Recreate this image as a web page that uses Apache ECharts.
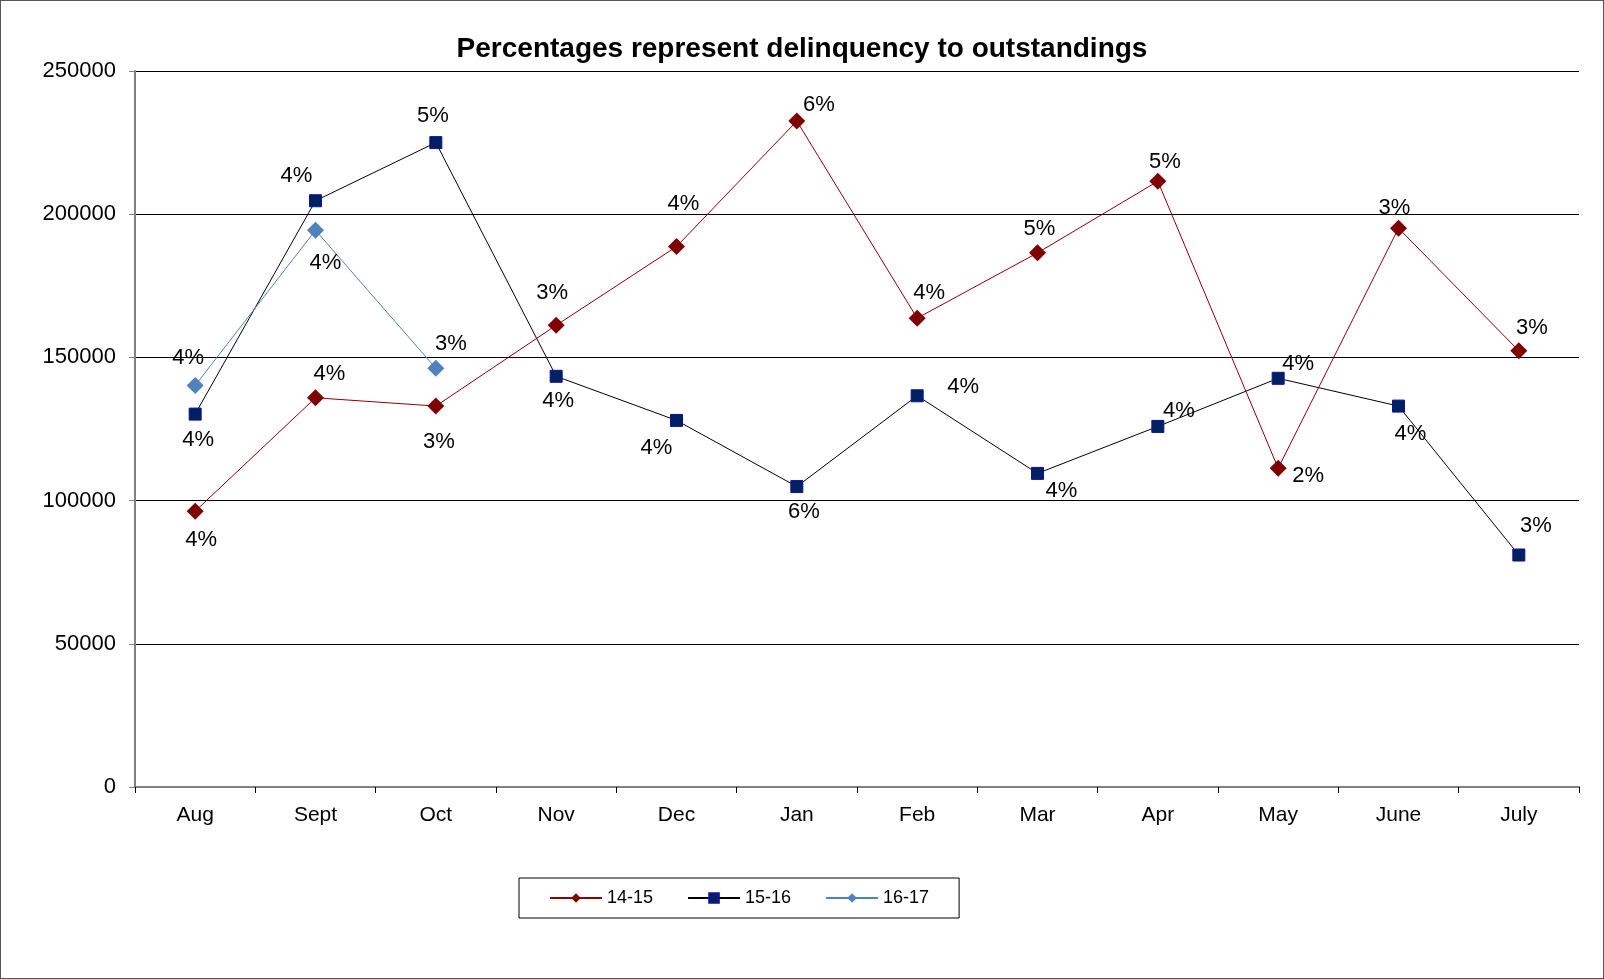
<!DOCTYPE html>
<html>
<head>
<meta charset="utf-8">
<script src="https://cdn.jsdelivr.net/npm/echarts@6/dist/echarts.min.js"></script>
<style>
  html, body { margin: 0; padding: 0; background: #fff; }
  #chart { width: 1604px; height: 979px; box-sizing: border-box; border: 1px solid #555; }
</style>
</head>
<body>
<div id="chart"></div>
<script>
const months = ['Aug', 'Sept', 'Oct', 'Nov', 'Dec', 'Jan', 'Feb', 'Mar', 'Apr', 'May', 'June', 'July']
const yTicks = [0, 50000, 100000, 150000, 200000, 250000]

const values1415 = [96300, 135900, 133000, 161200, 188700, 232500, 163700, 186500, 211500, 111300, 195100, 152300]
const values1516 = [130200, 204700, 225000, 143400, 128000, 104900, 136600, 109500, 125900, 142700, 133000, 81000]
const values1617 = [140200, 194400, 146200]

const pct1415 = ['4%', '4%', '3%', '3%', '4%', '6%', '4%', '5%', '5%', '2%', '3%', '3%']
const pct1516 = ['4%', '4%', '5%', '4%', '4%', '6%', '4%', '4%', '4%', '4%', '4%', '3%']
const pct1617 = ['4%', '4%', '3%']

// label offsets from the marker centre (layout only)
const off1415 = [[6, 29], [14, -24], [3, 36], [-4, -32], [7, -43], [22, -16], [12, -25], [2, -24], [7, -19], [30, 8], [-4, -20], [13, -23]]
const off1516 = [[3, 26], [-19, -25], [-3, -27], [2, 25], [-20, 28], [7, 25], [46, -9], [24, 18], [21, -15], [20, -14], [12, 28], [17, -29]]
const off1617 = [[-7, -28], [10, 33], [15, -24]]

const font = 'Liberation Sans, Arial, sans-serif'

function points(values, pct, off) {
  return values.map((v, i) => ({
    value: v,
    label: { formatter: pct[i], offset: off[i] },
  }))
}

const labelStyle = {
  show: true,
  position: 'inside',
  color: '#000',
  fontSize: 22,
  fontFamily: font,
}

const chart = echarts.init(document.getElementById('chart'))
chart.setOption({
  animation: false,
  title: {
    text: 'Percentages represent delinquency to outstandings',
    left: 'center',
    top: 29,
    textStyle: { fontSize: 28, fontWeight: 'bold', color: '#000', fontFamily: font },
  },
  legend: {
    bottom: 60,
    left: 518,
    itemWidth: 52,
    itemHeight: 12,
    itemGap: 34,
    padding: [11, 30, 11, 30],
    borderColor: '#000',
    borderWidth: 1,
    textStyle: { fontSize: 18, color: '#000', fontFamily: font },
    data: ['14-15', '15-16', '16-17'],
  },
  grid: {
    left: 134,
    right: 24,
    top: 70,
    bottom: 191,
  },
  xAxis: {
    type: 'category',
    data: months,
    boundaryGap: true,
    axisLine: { lineStyle: { color: '#808080', width: 2 } },
    axisTick: { show: true, length: 6, lineStyle: { color: '#000' } },
    axisLabel: { color: '#000', fontSize: 21, margin: 18, fontFamily: font },
  },
  yAxis: {
    type: 'value',
    min: yTicks[0],
    max: yTicks[yTicks.length - 1],
    interval: 50000,
    axisLine: { show: true, lineStyle: { color: '#808080', width: 2 } },
    axisTick: { show: true, length: 6, lineStyle: { color: '#808080' } },
    axisLabel: { color: '#000', fontSize: 22, margin: 19, fontFamily: font, formatter: (v) => String(v) },
    splitLine: { show: true, lineStyle: { color: '#000', width: 1 } },
  },
  series: [
    {
      name: '14-15',
      type: 'line',
      data: points(values1415, pct1415, off1415),
      symbol: 'diamond',
      symbolSize: 17,
      lineStyle: { color: '#8B0000', width: 1 },
      itemStyle: { color: '#800000' },
      label: labelStyle,
      z: 3,
    },
    {
      name: '15-16',
      type: 'line',
      data: points(values1516, pct1516, off1516),
      symbol: 'rect',
      symbolSize: 12,
      lineStyle: { color: '#000', width: 1 },
      itemStyle: { color: '#002060', borderColor: '#1010a0', borderWidth: 1 },
      label: labelStyle,
      z: 2,
    },
    {
      name: '16-17',
      type: 'line',
      data: points(values1617, pct1617, off1617),
      symbol: 'diamond',
      symbolSize: 17,
      lineStyle: { color: '#4F81BD', width: 1 },
      itemStyle: { color: '#4F81BD' },
      label: labelStyle,
      z: 4,
    },
  ],
})
</script>
</body>
</html>
